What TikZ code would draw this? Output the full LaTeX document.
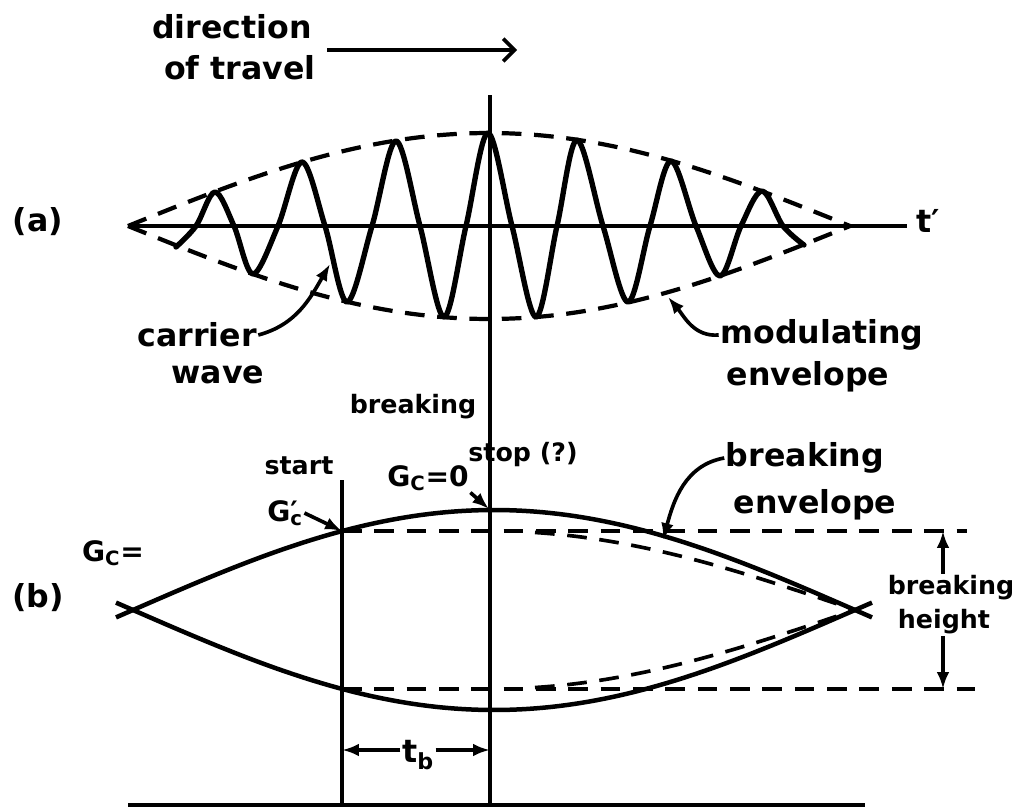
\documentclass[tikz,border=0pt]{standalone}
\usepackage{fontspec}
\setmainfont{DejaVu Sans}
\usetikzlibrary{arrows.meta,positioning}

\begin{document}
\begin{tikzpicture}[
  x=0.025cm, y=-0.025cm,
  lbl/.style={font=\fontsize{22.5}{27}\selectfont\bfseries, inner sep=1pt},
  smalllbl/.style={font=\fontsize{18}{22}\selectfont\bfseries, inner sep=1pt},
  glbl/.style={font=\fontsize{20}{24}\selectfont\bfseries, inner sep=1pt},
  rule/.style={line width=2.2pt},
  wave/.style={line width=3.8pt, line join=round, line cap=round},
  envdash/.style={line width=3pt, dash pattern=on 14pt off 9pt},
  lens/.style={line width=3.2pt},
  hdash/.style={line width=2.6pt, dash pattern=on 14pt off 9pt},
  pointer/.style={line width=2.6pt, -{Latex[length=12pt,width=9pt]}},
  dim/.style={line width=2.4pt, -{Latex[length=12pt,width=9pt]}}
]
\useasboundingbox (0,0) rectangle (1022,809);

% direction of travel
\node[lbl] (dir) at (232,27) {direction};
\node[lbl] (travel) at (240,68) {of travel};
\coordinate (travelA) at (327,50);
\coordinate (travelB) at (517,50);
\draw[line width=2.6pt, -{Straight Barb[length=8pt,width=16pt]}] (travelA) -- (travelB);

% part labels
\node[lbl] (parta) at (38,222) {(a)};
\node[lbl] (partb) at (38,598) {(b)};

% vertical lines and base line
\coordinate (ctop) at (490,95);
\coordinate (cbot) at (490,805);
\coordinate (stop) at (342,480);
\coordinate (sbot) at (342,805);
\coordinate (baseL) at (128,805);
\coordinate (baseR) at (865,805);
\draw[rule] (ctop) -- (cbot);
\draw[rule] (stop) -- (sbot);
\draw[rule] (baseL) -- (baseR);

% (a) axis
\coordinate (axL) at (128,226);
\coordinate (axR) at (907,226);
\draw[rule] (axL) -- (axR);
\node[lbl, anchor=west] (tprime) at (915,221) {t′};

% modulating envelope
\draw[envdash] plot[domain=128:850, samples=80] (\x, {226-93*cos((\x-489)/361*90)});
\draw[envdash] plot[domain=128:850, samples=80] (\x, {226+93*cos((\x-489)/361*90)});

% carrier wave
\draw[wave] plot[smooth, tension=0.55] coordinates {
  (176,247) (196,226) (215,192) (234,226) (253,274) (278,226) (302,162)
  (325,226) (347,302) (372,226) (396,141) (420,226) (444,317) (466,226)
  (488,133) (512,226) (536,317) (557,226) (577,140) (603,226) (628,302)
  (650,226) (671,161) (696,226) (720,276) (741,226) (762,191) (783,226)
  (804,245)};

% labels of (a)
\node[lbl] (carrier) at (197,335) {carrier};
\node[lbl] (wavelbl) at (218,375) {wave};
\coordinate (carrierpt) at (330,264);
\draw[pointer] (carrier.east) to[out=15, in=-120] (carrierpt);

\node[lbl] (modul) at (822,335) {modulating};
\node[lbl] (envlbl) at (808,377) {envelope};
\coordinate (modpt) at (668,297);
\draw[pointer] (modul.west) to[out=185, in=-50] (modpt);

% (b) lens
\draw[lens] plot[domain=116:872, samples=100] (\x, {610-100*cos((\x-494)/361*90)});
\draw[lens] plot[domain=116:872, samples=100] (\x, {610+100*cos((\x-494)/361*90)});

% breaking envelope
\draw[hdash] plot[domain=535:855, samples=60] (\x, {610-79*cos((\x-490)/365*90)});
\draw[hdash] plot[domain=535:855, samples=60] (\x, {610+79*cos((\x-490)/365*90)});

% breaking height lines
\coordinate (htopL) at (342,531);
\coordinate (htopR) at (967,531);
\coordinate (hbotL) at (342,689);
\coordinate (hbotR) at (975,689);
\draw[hdash] (htopL) -- (htopR);
\draw[hdash] (hbotL) -- (hbotR);

\node[smalllbl] (bh1) at (951,588) {breaking};
\node[smalllbl] (bh2) at (944,622) {height};
\coordinate (bhtop) at (943,531);
\coordinate (bhbot) at (943,689);
\draw[dim] (bh1.north -| bhtop) -- (bhtop);
\draw[dim] (bh2.south -| bhbot) -- (bhbot);

\node[lbl] (be1) at (805,458) {breaking};
\node[lbl] (be2) at (815,505) {envelope};
\coordinate (bept) at (663,540);
\draw[pointer] (be1.west) to[out=190, in=75] (bept);

% labels of (b)
\node[smalllbl] (brk) at (413,407) {breaking};
\node[smalllbl] (stoplbl) at (523,455) {stop (?)};
\node[smalllbl] (startlbl) at (299,466) {start};

\node[glbl] (gc0) at (428,478) {G\textsubscript{C}=0};
\coordinate (peakpt) at (489,509);
\draw[pointer] (gc0.south east) -- (peakpt);

\node[glbl] (gcp) at (285,513) {G\rlap{′}\textsubscript{c}};
\draw[pointer] (gcp.east) -- (htopL);

\node[glbl] (gceq) at (113,553) {G\textsubscript{C}=};

% t_b
\node[lbl] (tb) at (418,755) {t\textsubscript{b}};
\coordinate (tbL) at (342,750);
\coordinate (tbR) at (490,750);
\draw[dim] (tb.west |- tbL) -- (tbL);
\draw[dim] (tb.east |- tbR) -- (tbR);

\end{tikzpicture}
\end{document}
